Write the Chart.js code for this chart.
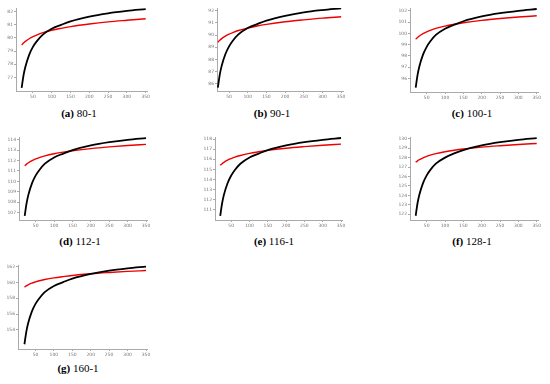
<!DOCTYPE html>
<html>
<head>
<meta charset="utf-8">
<script src="https://cdn.jsdelivr.net/npm/chart.js@4.4.1/dist/chart.umd.min.js"></script>
<style>
    body { margin: 0; background: #fff; width: 550px; height: 384px; position: relative; overflow: hidden }
    .panel { position: absolute }
    .cap { position: absolute; font: 11px/11px "Liberation Serif", serif; color: #000; transform: translateX(-50%); white-space: nowrap }
</style>
</head>
<body>
<script>
// Valores (x común a todas las curvas)
const xs = [20, 25, 30, 40, 50, 60, 75, 100, 125, 150, 200, 250, 300, 350]
const xTicks = [50, 100, 150, 200, 250, 300, 350]

const black80 = [76.20, 77.16, 77.81, 78.71, 79.31, 79.73, 80.21, 80.69, 80.98, 81.25, 81.61, 81.86, 82.04, 82.18]
const red80 = [79.45, 79.61, 79.73, 79.93, 80.09, 80.21, 80.37, 80.57, 80.72, 80.85, 81.05, 81.21, 81.33, 81.44]
const yTicks80 = [77, 78, 79, 80, 81, 82]

const black90 = [85.70, 86.74, 87.46, 88.43, 89.08, 89.54, 90.06, 90.58, 90.90, 91.19, 91.58, 91.86, 92.05, 92.20]
const red90 = [89.41, 89.57, 89.71, 89.92, 90.08, 90.21, 90.38, 90.58, 90.75, 90.88, 91.09, 91.25, 91.39, 91.50]
const yTicks90 = [86, 87, 88, 89, 90, 91, 92]

const black100 = [95.20, 96.31, 97.08, 98.12, 98.81, 99.30, 99.86, 100.41, 100.76, 101.07, 101.49, 101.78, 101.99, 102.15]
const red100 = [99.48, 99.64, 99.77, 99.98, 100.14, 100.27, 100.44, 100.64, 100.80, 100.94, 101.15, 101.31, 101.44, 101.55]
const yTicks100 = [96, 97, 98, 99, 100, 101, 102]

const black112 = [106.70, 107.89, 108.71, 109.83, 110.58, 111.10, 111.70, 112.30, 112.67, 113.00, 113.45, 113.76, 113.99, 114.16]
const red112 = [111.50, 111.66, 111.79, 112.00, 112.16, 112.29, 112.45, 112.65, 112.81, 112.94, 113.15, 113.31, 113.44, 113.55]
const yTicks112 = [107, 108, 109, 110, 111, 112, 113, 114]

const black116 = [110.40, 111.63, 112.48, 113.63, 114.40, 114.94, 115.56, 116.18, 116.56, 116.91, 117.37, 117.69, 117.92, 118.10]
const red116 = [115.40, 115.56, 115.70, 115.91, 116.07, 116.21, 116.37, 116.58, 116.74, 116.88, 117.09, 117.25, 117.39, 117.50]
const yTicks116 = [111, 112, 113, 114, 115, 116, 117, 118]

const black128 = [121.85, 123.17, 124.07, 125.30, 126.12, 126.70, 127.36, 128.00, 128.45, 128.80, 129.29, 129.63, 129.88, 130.07]
const red128 = [127.50, 127.66, 127.78, 127.98, 128.14, 128.27, 128.42, 128.62, 128.78, 128.91, 129.11, 129.26, 129.39, 129.50]
const yTicks128 = [122, 123, 124, 125, 126, 127, 128, 129, 130]

const black160 = [152.20, 153.77, 154.85, 156.32, 157.30, 157.98, 158.77, 159.55, 160.04, 160.48, 161.07, 161.48, 161.77, 162.00]
const red160 = [159.40, 159.56, 159.70, 159.91, 160.07, 160.21, 160.37, 160.58, 160.74, 160.88, 161.09, 161.25, 161.39, 161.50]
const yTicks160 = [154, 156, 158, 160, 162]


// Ejes y márgenes de cada panel
const padL = 14, padT = 4, padR = 8, padB = 10

function printPanel(black, red, yTicks, box, letter, title, cap) {

    const div = document.createElement('div')
    div.className = 'panel'
    const w = Math.round(box.R - box.L + padL + padR)
    const h = Math.round(box.B - box.T + padT + padB)
    div.style.cssText = `left:${Math.round(box.L - padL)}px;top:${Math.round(box.T - padT)}px;width:${w}px;height:${h}px`
    const canvas = document.createElement('canvas')
    div.appendChild(canvas)
    document.body.appendChild(div)

    const data = {
        datasets: [
            { data: xs.map((x, i) => ({ x, y: black[i] })), borderColor: '#000', borderWidth: 1.8 },
            { data: xs.map((x, i) => ({ x, y: red[i] })), borderColor: '#ee0000', borderWidth: 1.4 }
        ]
    }

    const axis = {
        type: 'linear',
        grid: { drawOnChartArea: false, tickLength: 2, color: '#aaa' },
        border: { color: '#aaa', dash: [1, 1] },
        ticks: { font: { size: 4.5, family: 'DejaVu Sans' }, color: '#777', padding: 1, maxRotation: 0, autoSkip: false }
    }

    const options = {
        responsive: true,
        maintainAspectRatio: false,
        animation: false,
        layout: { padding: { top: padT, right: padR, left: 0, bottom: 0 } },
        plugins: { legend: { display: false }, tooltip: { enabled: false } },
        elements: {
            point: { radius: 0 },
            line: { cubicInterpolationMode: 'monotone' }
        },
        scales: {
            x: {
                ...axis, min: box.xmin, max: box.xmax,
                afterFit: s => { s.height = padB },
                afterBuildTicks: s => { s.ticks = xTicks.map(v => ({ value: v })) }
            },
            y: {
                ...axis, min: box.ymin, max: box.ymax,
                afterFit: s => { s.width = padL },
                afterBuildTicks: s => { s.ticks = yTicks.map(v => ({ value: v })) }
            }
        }
    }

    new Chart(canvas, { type: 'line', data, options })

    const c = document.createElement('div')
    c.className = 'cap'
    c.style.left = cap.x + 'px'
    c.style.top = (cap.y - 5.5) + 'px'
    c.innerHTML = `<b>(${letter})</b> ${title}`
    document.body.appendChild(c)
}

printPanel(black80, red80, yTicks80,
    { L: 16, R: 147, T: 8, B: 91, xmin: 5, xmax: 353.5, ymin: 75.97, ymax: 82.26 }, 'a', '80-1', { x: 79, y: 113.5 })
printPanel(black90, red90, yTicks90,
    { L: 217, R: 343, T: 8, B: 91, xmin: 17.7, xmax: 355, ymin: 85.42, ymax: 92.22 }, 'b', '90-1', { x: 272, y: 113.5 })
printPanel(black100, red100, yTicks100,
    { L: 410, R: 538, T: 8, B: 92, xmin: 4.5, xmax: 353.5, ymin: 94.82, ymax: 102.24 }, 'c', '100-1', { x: 472, y: 113.5 })
printPanel(black112, red112, yTicks112,
    { L: 19, R: 147, T: 137, B: 220, xmin: 4.5, xmax: 352.7, ymin: 106.3, ymax: 114.26 }, 'd', '112-1', { x: 80, y: 241.7 })
printPanel(black116, red116, yTicks116,
    { L: 215, R: 342, T: 137, B: 220, xmin: 5.7, xmax: 352.7, ymin: 110.0, ymax: 118.2 }, 'e', '116-1', { x: 274, y: 241.7 })
printPanel(black128, red128, yTicks128,
    { L: 410, R: 538, T: 137, B: 220, xmin: 4.5, xmax: 353.5, ymin: 121.4, ymax: 130.18 }, 'f', '128-1', { x: 472, y: 241.7 })
printPanel(black160, red160, yTicks160,
    { L: 18, R: 147, T: 265, B: 349, xmin: 2.5, xmax: 352.7, ymin: 151.6, ymax: 162.2 }, 'g', '160-1', { x: 78, y: 368.3 })
</script>
</body>
</html>
